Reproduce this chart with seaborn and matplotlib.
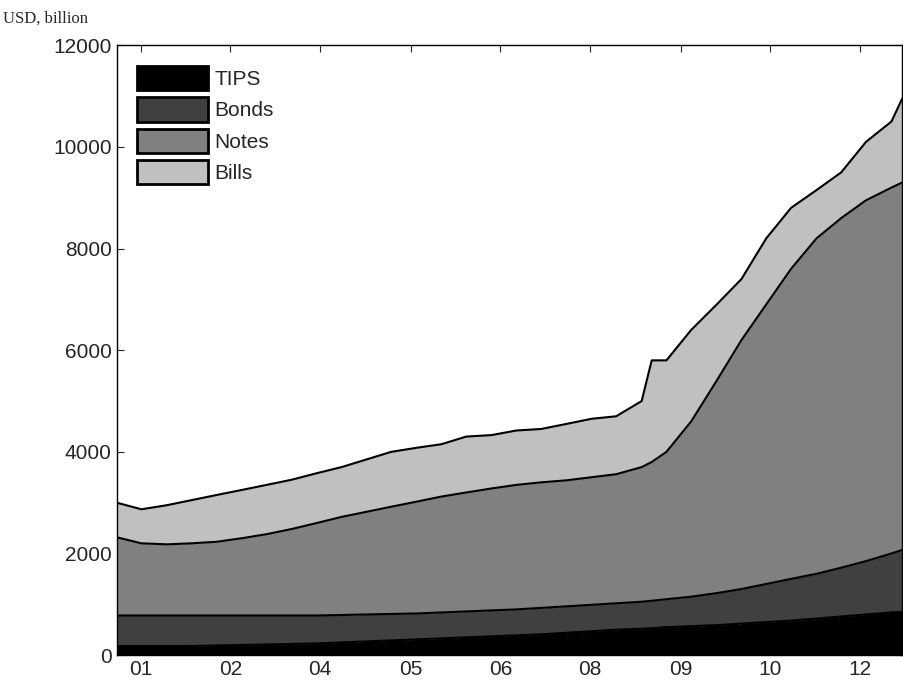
import numpy as np
import seaborn as sns
from matplotlib import pyplot as plt
from matplotlib.patches import Patch

sns.set_style('white')
plt.rcParams['font.family'] = ['Liberation Sans', 'DejaVu Sans']

# fractional years of the sampled points
years = [2000.90, 2001.27, 2001.65, 2002.02, 2002.39, 2002.77, 2003.14, 2003.51, 2003.89,
         2004.26, 2004.63, 2005.00, 2005.38, 2005.75, 2006.12, 2006.50, 2006.87, 2007.24,
         2007.62, 2007.99, 2008.36, 2008.74, 2008.89, 2009.11, 2009.48, 2009.86, 2010.23,
         2010.60, 2010.97, 2011.35, 2011.72, 2012.09, 2012.47, 2012.63]

# stacked tops (cumulative, USD billion)
tips_top = [180, 180, 180, 180, 190, 200, 210, 220, 230, 250, 270, 290, 310, 330, 350, 370, 390,
            410, 440, 470, 500, 520, 530, 550, 570, 590, 620, 650, 680, 720, 760, 800, 840, 850]
bonds_top = [780] * 9 + [790, 800, 810, 820, 840, 860, 880, 900, 930, 960, 990, 1020, 1050, 1070,
                         1100, 1150, 1220, 1300, 1400, 1500, 1600, 1720, 1850, 2000, 2070]
notes_top = [2320, 2200, 2180, 2200, 2230, 2300, 2380, 2480, 2600, 2720, 2820, 2920, 3020, 3120,
             3200, 3280, 3350, 3400, 3440, 3500, 3560, 3700, 3800, 4000, 4600, 5400, 6200, 6900,
             7600, 8200, 8600, 8950, 9200, 9300]
bills_top = [3000, 2870, 2950, 3050, 3150, 3250, 3350, 3450, 3580, 3700, 3850, 4000, 4080, 4150,
             4300, 4330, 4420, 4450, 4550, 4650, 4700, 5000, 5800, 5800, 6400, 6900, 7400, 8200,
             8800, 9150, 9500, 10100, 10500, 10950]

tick_pos = [2001.26, 2002.60, 2003.94, 2005.29, 2006.63, 2007.97, 2009.32, 2010.66, 2012.00]
tick_labels = ['01', '02', '04', '05', '06', '08', '09', '10', '12']

names = ['TIPS', 'Bonds', 'Notes', 'Bills']
colors = ['#000000', '#404040', '#808080', '#c0c0c0']

fig = plt.figure(figsize=(9.04, 6.86), dpi=100)
ax = fig.add_axes([0.129, 0.045, 0.869, 0.889])

x = np.array(years)
levels = [np.zeros(len(x)), np.array(tips_top), np.array(bonds_top), np.array(notes_top), np.array(bills_top)]
for i in range(4):
    ax.fill_between(x, levels[i], levels[i + 1], color=colors[i], linewidth=0)
    ax.plot(x, levels[i + 1], color='black', lw=1.5)

ax.set_xlim(years[0], years[-1])
ax.set_ylim(0, 12000)
ax.set_yticks(range(0, 12001, 2000))
ax.set_xticks(tick_pos)
ax.set_xticklabels(tick_labels)
ax.tick_params(direction='in', top=True, right=True, bottom=True, left=True, labelsize=15, length=5)
for s in ax.spines.values():
    s.set_color('black')
    s.set_linewidth(1)

handles = [Patch(facecolor=c, edgecolor='black', linewidth=2, label=n) for n, c in zip(names, colors)]
ax.legend(handles=handles, loc='upper left', frameon=False, fontsize=15, handlelength=3.4,
          handleheight=1.4, labelspacing=0.35, handletextpad=0.3, borderaxespad=0.4,
          borderpad=0.6)

fig.text(0.003, 0.985, 'USD, billion', family='Liberation Serif', fontsize=12, va='top')

plt.savefig('out.png', dpi=100)
